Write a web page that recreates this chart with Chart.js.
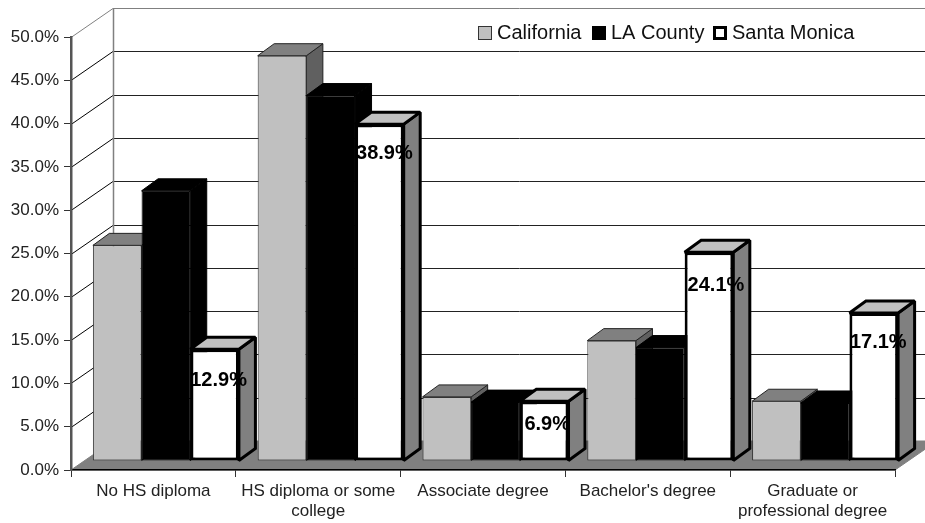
<!DOCTYPE html>
<html>
<head>
<meta charset="utf-8">
<title>Educational attainment</title>
<style>
  body { margin: 0; background: #fff; }
  canvas { display: block; }
</style>
<script src="https://cdn.jsdelivr.net/npm/chart.js@4"></script>
</head>
<body>
<canvas id="grafico" width="925" height="523"></canvas>
<script>
const categories = [
  "No HS diploma",
  ["HS diploma or some", "college"],
  "Associate degree",
  "Bachelor's degree",
  ["Graduate or", "professional degree"],
];
const california = [24.9, 46.8, 7.4, 13.9, 6.9];
const laCounty = [31.2, 42.2, 6.8, 13.1, 6.7];
const santaMonica = [12.9, 38.9, 6.9, 24.1, 17.1];
const yTicks = [0, 5, 10, 15, 20, 25, 30, 35, 40, 45, 50];

const fontFamily = '"Liberation Sans", Arial, sans-serif';

// 3D look: wall depth, where the bar row sits on the floor, depth of a bar
const wall = { dx: 42, dy: -29 };
const row = { dx: 12.5, dy: -9 };
const barDepth = { dx: 16.5, dy: -12 };

// the value labels were placed by hand in the original
const labelNudgeX = [4, 5, 3, 7, 4.5];
const labelNudgeY = [31.5, 29, 23, 33.5, 30];

const faces = [
  { top: "#808080", side: "#606060", stroke: "#222", lineWidth: 1 },
  { top: "#000", side: "#000", stroke: "#000", lineWidth: 1 },
  { top: "#c0c0c0", side: "#808080", stroke: "#000", lineWidth: 3 },
];

function fillFace(ctx, points, fill, stroke, lineWidth) {
  ctx.beginPath();
  points.forEach((p, i) => (i ? ctx.lineTo(p[0], p[1]) : ctx.moveTo(p[0], p[1])));
  ctx.closePath();
  ctx.fillStyle = fill;
  ctx.fill();
  ctx.lineWidth = lineWidth;
  ctx.strokeStyle = stroke;
  ctx.lineJoin = "miter";
  ctx.miterLimit = 1.5;
  ctx.stroke();
}

function line(ctx, x1, y1, x2, y2, color, width) {
  ctx.beginPath();
  ctx.moveTo(x1, y1);
  ctx.lineTo(x2, y2);
  ctx.strokeStyle = color;
  ctx.lineWidth = width;
  ctx.stroke();
}

const walls3d = {
  id: "walls3d",
  beforeDraw(chart) {
    const { ctx, scales } = chart;
    const left = scales.x.left;
    const right = scales.x.right;
    const backX = left + wall.dx;

    ctx.save();

    const y0 = scales.y.getPixelForValue(0);
    fillFace(ctx, [
      [left, y0],
      [backX, y0 + wall.dy],
      [right + wall.dx, y0 + wall.dy],
      [right, y0],
    ], "#808080", "#808080", 1);

    yTicks.forEach((v) => {
      const y = Math.round(scales.y.getPixelForValue(v)) + 0.5;
      const edge = v === 50 ? "#808080" : "#000";
      if (v > 0) {
        line(ctx, left, y, backX, y + wall.dy, edge, 1);
        line(ctx, backX, y + wall.dy, right + wall.dx, y + wall.dy, edge === "#000" ? "#222" : edge, 1);
      }
    });

    const topY = Math.round(scales.y.getPixelForValue(50)) + wall.dy + 0.5;
    line(ctx, backX + 0.5, topY, backX + 0.5, y0 + wall.dy, "#808080", 1.5);
    ctx.restore();
  },
};

const bars3d = {
  id: "bars3d",
  // bars are painted here, first series first, so later ones cover earlier sides
  beforeDatasetsDraw(chart) {
    const { ctx } = chart;
    ctx.save();
    ctx.translate(row.dx, row.dy);
    chart.data.datasets.forEach((ds, d) => {
      const face = faces[d];
      chart.getDatasetMeta(d).data.forEach((bar) => {
        const l = bar.x - bar.width / 2;
        const r = bar.x + bar.width / 2;
        const t = bar.y;
        const b = bar.base;
        const { dx, dy } = barDepth;
        fillFace(ctx, [[r, t], [r + dx, t + dy], [r + dx, b + dy], [r, b]], face.side, face.stroke, face.lineWidth);
        fillFace(ctx, [[l, t], [l + dx, t + dy], [r + dx, t + dy], [r, t]], face.top, face.stroke, face.lineWidth);
        bar.draw(ctx, chart.chartArea);
      });
    });
    ctx.restore();
    return false;
  },
  afterDraw(chart) {
    const { ctx } = chart;
    ctx.save();

    // value labels, Santa Monica only
    ctx.font = "bold 20px " + fontFamily;
    ctx.fillStyle = "#000";
    ctx.textAlign = "center";
    ctx.textBaseline = "middle";
    chart.getDatasetMeta(2).data.forEach((bar, i) => {
      ctx.fillText(santaMonica[i].toFixed(1) + "%", bar.x + row.dx + labelNudgeX[i], bar.y + row.dy + labelNudgeY[i]);
    });

    // legend
    const legendX = [478, 592, 713];
    ctx.font = "20px " + fontFamily;
    ctx.textAlign = "left";
    chart.data.datasets.forEach((ds, d) => {
      const w = d === 2 ? 3 : 1;
      const inset = w / 2;
      ctx.fillStyle = ds.backgroundColor;
      ctx.fillRect(legendX[d], 26, 14, 14);
      ctx.lineWidth = w;
      ctx.strokeStyle = ds.borderColor;
      ctx.strokeRect(legendX[d] + inset, 26 + inset, 14 - w, 14 - w);
      ctx.fillStyle = "#111";
      ctx.fillText(ds.label, legendX[d] + 19, 33.5);
    });
    ctx.restore();
  },
};

new Chart(document.getElementById("grafico").getContext("2d"), {
  type: "bar",
  data: {
    labels: categories,
    datasets: [
      { label: "California", data: california, backgroundColor: "#c0c0c0", borderColor: "#333", borderWidth: 1 },
      { label: "LA County", data: laCounty, backgroundColor: "#000", borderColor: "#000", borderWidth: 1 },
      { label: "Santa Monica", data: santaMonica, backgroundColor: "#fff", borderColor: "#000", borderWidth: 3 },
    ],
  },
  plugins: [walls3d, bars3d],
  options: {
    responsive: false,
    animation: false,
    categoryPercentage: 0.886,
    barPercentage: 1,
    inflateAmount: 0,
    borderSkipped: false,
    layout: { padding: { left: 0, right: 30, top: 37, bottom: 0 } },
    plugins: {
      legend: { display: false },
      tooltip: { enabled: false },
    },
    scales: {
      x: {
        afterFit: (scale) => { scale.height = 53; },
        grid: { drawOnChartArea: false, tickLength: 7, color: "#333" },
        border: { color: "#000", width: 1.5 },
        ticks: {
          color: "#222",
          font: { family: fontFamily, size: 17, lineHeight: 1.18 },
          padding: 4,
          maxRotation: 0,
          autoSkip: false,
        },
      },
      y: {
        min: 0,
        max: 50,
        afterFit: (scale) => { scale.width = 71; },
        grid: { drawOnChartArea: false, tickLength: 7, color: "#333" },
        border: { color: "#555", width: 2.5 },
        ticks: {
          stepSize: 5,
          color: "#222",
          font: { family: fontFamily, size: 17 },
          padding: 5,
          callback: (v) => v.toFixed(1) + "%",
        },
      },
    },
  },
});
</script>
</body>
</html>
